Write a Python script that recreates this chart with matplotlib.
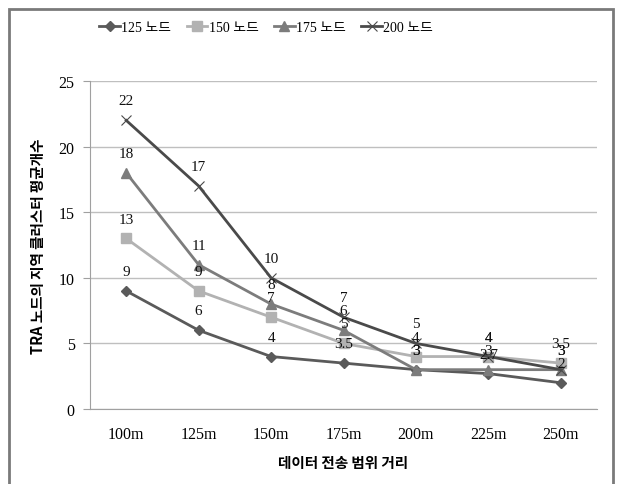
import matplotlib.pyplot as plt
from matplotlib.patches import Rectangle

ranges = ["100m", "125m", "150m", "175m", "200m", "225m", "250m"]
nodes_125 = [9, 6, 4, 3.5, 3, 2.7, 2]
nodes_150 = [13, 9, 7, 5, 4, 4, 3.5]
nodes_175 = [18, 11, 8, 6, 3, 3, 3]
nodes_200 = [22, 17, 10, 7, 5, 4, 3]
series_names = ["125 노드", "150 노드", "175 노드", "200 노드"]

serif = ["Liberation Serif", "Noto Sans CJK KR"]
korean = ["Noto Sans CJK KR", "DejaVu Sans"]

fig = plt.figure(figsize=(6.19, 4.85), dpi=100)
ax = fig.add_axes([0.1454, 0.1546, 0.8191, 0.6763])

styles = [
    (nodes_125, "#5a5a5a", "D", 5.5, 1.0),
    (nodes_150, "#b2b2b2", "s", 7, 1.0),
    (nodes_175, "#7c7c7c", "^", 7.5, 1.0),
    (nodes_200, "#4a4a4a", "x", 7, 0.8),
]
x = list(range(len(ranges)))
for (vals, color, marker, ms, mew), name in zip(styles, series_names):
    ax.plot(x, vals, color=color, lw=2, marker=marker, ms=ms,
            markeredgewidth=mew, label=name, zorder=3)
    for xi, v in zip(x, vals):
        ax.annotate(f"{v:g}", (xi, v), xytext=(0, 14), textcoords="offset points",
                    ha="center", va="center", fontsize=11, family=serif,
                    color="#111111", zorder=4)

ax.set_xlim(-0.5, len(ranges) - 0.5)
ax.set_ylim(0, 25)
ax.set_yticks(range(0, 26, 5))
ax.set_xticks(x)
ax.set_xticklabels(ranges)
ax.grid(axis="y", color="#bfbfbf", lw=1)
ax.set_axisbelow(True)
for side in ("top", "right"):
    ax.spines[side].set_visible(False)
for side in ("left", "bottom"):
    ax.spines[side].set_color("#a0a0a0")
ax.tick_params(axis="x", length=0, pad=12)
ax.tick_params(axis="y", length=5, color="#a0a0a0", pad=6)
for lab in ax.get_xticklabels() + ax.get_yticklabels():
    lab.set_family(serif)
    lab.set_fontsize(11.5)

ax.set_xlabel("데이터 전송 범위 거리", family=korean, fontweight="bold",
              fontsize=10.5, labelpad=9)
ax.set_ylabel("TRA 노드의 지역 클러스터 평균개수", family=korean, fontweight="bold",
              fontsize=10.5, labelpad=9)

leg = fig.legend(loc="center", bbox_to_anchor=(0.43, 0.942), ncol=4, frameon=False,
                 prop={"family": serif, "size": 10}, handlelength=1.5,
                 handletextpad=0.1, columnspacing=1.1)

# outer frame around the chart
fig.patches.append(Rectangle((9 / 619, -0.02), 604 / 619, 1 - 10 / 485 + 0.02,
                             transform=fig.transFigure, fill=False,
                             edgecolor="#7a7a7a", lw=2))

fig.savefig("out.png", dpi=100)
